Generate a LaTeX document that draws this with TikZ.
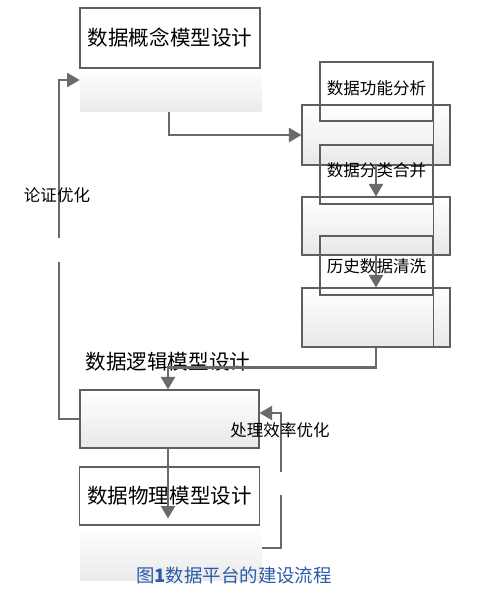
\documentclass[tikz,border=0pt]{standalone}
\usepackage{fontspec}
\usepackage{tikz}
\usetikzlibrary{arrows.meta, positioning, calc}
\newfontfamily\cjk{Noto Sans CJK SC}
\definecolor{linegray}{HTML}{6A6A6A}
\definecolor{edgegray}{HTML}{5E5E5E}
\definecolor{capblue}{HTML}{2A5CAA}

\begin{document}
\begin{tikzpicture}[x=0.02cm, y=-0.02cm, font=\cjk,
    whitebox/.style={draw=edgegray, line width=0.6pt, minimum width=3.6cm, minimum height=1.2cm, inner sep=0pt},
    graybox/.style={draw=edgegray, line width=0.6pt, top color=white, bottom color=black!9, inner sep=0pt},
    fadebox/.style={top color=white, bottom color=black!8, inner sep=0pt},
    stepbox/.style={draw=edgegray, line width=0.6pt, minimum width=2.26cm, minimum height=1.18cm, inner sep=0pt, font=\cjk\fontsize{9.4pt}{11pt}\selectfont},
    flow/.style={draw=linegray, line width=1.2pt, -{Triangle[length=0.25cm, width=0.28cm]}},
    plain/.style={draw=linegray, line width=1.2pt},
    big/.style={font=\cjk\fontsize{11.7pt}{14pt}\selectfont},
    small/.style={font=\cjk\fontsize{9.4pt}{11pt}\selectfont}]
    \useasboundingbox (0,0) rectangle (481,589);

    % conceptual model
    \node[fadebox, minimum width=3.64cm, minimum height=0.88cm] (ga) at (171,90) {};
    \node[whitebox, fill=white, big] (ka) at (170,38) {数据概念模型设计};

    % analysis steps
    \node[graybox, minimum width=2.96cm, minimum height=1.2cm] (g1) at (376,135) {};
    \node[graybox, minimum width=2.96cm, minimum height=1.16cm] (g2) at (376,226) {};
    \node[graybox, minimum width=2.96cm, minimum height=1.18cm] (g3) at (376,317.5) {};
    \node[stepbox] (f1) at (376.5,91.5) {};
    \node[small] at (376.5,88) {数据功能分析};
    \node[stepbox] (f2) at (376.5,174.5) {};
    \node[small] (t2) at (376.5,170) {数据分类合并};
    \node[stepbox] (f3) at (376.5,265.5) {};
    \node[small] (t3) at (376.5,266) {历史数据清洗};
    \draw[edgegray, line width=0.6pt] (f1.north east) -- (f1.east |- g3.south);

    % logical model
    \node[graybox, minimum width=3.58cm, minimum height=1.16cm] (lb) at (169.5,419) {};
    \node[big] (tb) at (168,362) {数据逻辑模型设计};

    % physical model
    \node[fadebox, minimum width=3.64cm, minimum height=1.1cm] (gc) at (171,552.5) {};
    \node[whitebox, minimum height=1.16cm, big] (lc) at (169.5,496) {数据物理模型设计};

    % connectors
    \draw[flow] (ga.south -| 169,0) |- (g1.west);
    \draw[flow] (g1.south) -- (g2.north);
    \draw[flow] (g2.south) -- (g3.north);
    \draw[flow] (g3.south) -- ++(0,20) -| (lb.north -| 168,0);
    \draw[flow] (lb.south -| 168,0) -- ($(lc.south -| 168,0)+(0,-7)$);

    % feedback loops
    \coordinate (c1) at (59,262);
    \coordinate (c2) at (59,238);
    \draw[plain] (lb.west) -| (c1);
    \draw[flow] (c2) |- (ga.west |- 0,80);
    \node[small] (r1) at (57,195) {论证优化};

    \coordinate (c3) at (281,495);
    \coordinate (c4) at (281,472);
    \draw[plain] (gc.east |- 0,548) -| (c3);
    \draw[flow] (c4) |- (lb.east |- 0,413);
    \node[small] (r2) at (280,430) {处理效率优化};

    \node[text=capblue, font=\cjk\fontsize{10.5pt}{12pt}\selectfont] (cap) at (234,575) {图\textbf{1}数据平台的建设流程};
\end{tikzpicture}
\end{document}
